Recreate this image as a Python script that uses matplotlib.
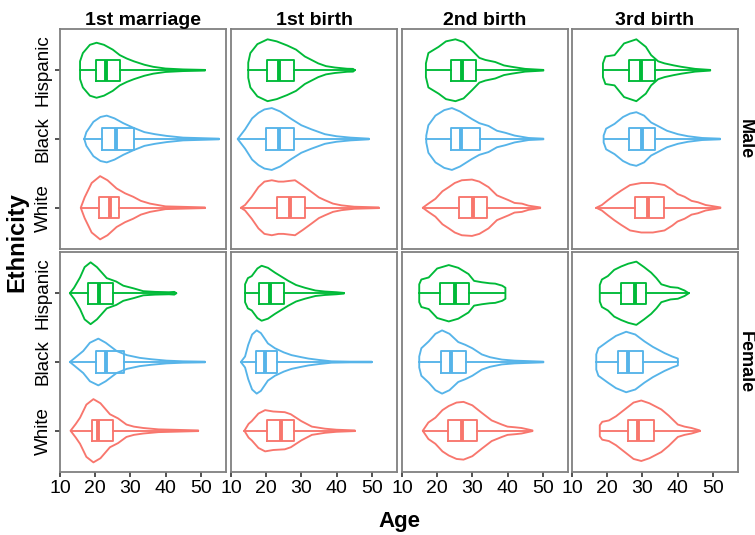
import matplotlib
matplotlib.use('Agg')
import matplotlib.pyplot as plt

plt.rcParams['font.family'] = ['Liberation Sans', 'DejaVu Sans']

events = ['1st marriage', '1st birth', '2nd birth', '3rd birth']
sexes = ['Male', 'Female']
ethnicities = ['White', 'Black', 'Hispanic']
colors = ['#F8766D', '#56B4E9', '#00BA38']

# violin outlines: (age, half width), order White / Black / Hispanic
marr_m = [
    [(15.9, 0), (17, 0.15), (19, 0.36), (21.4, 0.46), (23.5, 0.40), (26.1, 0.28), (28.5, 0.21), (30.8, 0.16),
     (33, 0.10), (35.6, 0.06), (40, 0.02), (51.2, 0.005)],
    [(16.9, 0), (17.5, 0.10), (19.5, 0.25), (21.5, 0.32), (23.3, 0.34), (25.5, 0.30), (28, 0.23), (30.8, 0.165),
     (34, 0.10), (37, 0.07), (40.3, 0.045), (45, 0.02), (55.2, 0.005)],
    [(15.7, 0.13), (16.5, 0.25), (18.5, 0.37), (20.4, 0.40), (22.5, 0.37), (25, 0.30), (27, 0.22), (29, 0.17),
     (31, 0.13), (34, 0.08), (36.5, 0.05), (40, 0.025), (45, 0.012), (51.2, 0.005)],
]
birth1_m = [
    [(12.8, 0), (14, 0.04), (15.9, 0.16), (17.8, 0.30), (19.5, 0.38), (21.6, 0.40), (23.5, 0.38), (24.9, 0.38),
     (26.5, 0.39), (28.2, 0.40), (30.5, 0.32), (32.9, 0.23), (35, 0.15), (36.7, 0.11), (39, 0.06), (41.4, 0.035),
     (45, 0.015), (52, 0.005)],
    [(11.9, 0), (14, 0.14), (16, 0.30), (17.8, 0.38), (19.5, 0.43), (21.6, 0.45), (24, 0.40), (27.2, 0.29),
     (30, 0.20), (32.9, 0.14), (36.7, 0.07), (40, 0.04), (44, 0.02), (49.2, 0.005)],
    [(14.9, 0.11), (15.5, 0.25), (17.5, 0.38), (20.4, 0.45), (23, 0.42), (26, 0.36), (28.5, 0.30), (31, 0.20),
     (34.8, 0.10), (37, 0.06), (39.5, 0.04), (43, 0.022), (44.7, 0.02), (45.2, 0.0)],
]
birth2_m = [
    [(15.9, 0), (17.5, 0.06), (19.5, 0.13), (21.5, 0.24), (23.3, 0.30), (25, 0.36), (27, 0.40), (29.9, 0.41),
     (32, 0.38), (34.6, 0.30), (37, 0.18), (40.3, 0.11), (42, 0.07), (44.1, 0.06), (46, 0.03), (49.3, 0.005)],
    [(16.9, 0.05), (17.5, 0.20), (19.5, 0.34), (22, 0.42), (24.2, 0.45), (26.5, 0.40), (29.9, 0.29), (32, 0.23),
     (34.6, 0.19), (37, 0.12), (39.4, 0.09), (42, 0.05), (46, 0.015), (50.2, 0.005)],
    [(16.8, 0.10), (17.5, 0.25), (20.4, 0.34), (22.5, 0.42), (25.2, 0.45), (27.5, 0.41), (29.9, 0.29), (32, 0.18),
     (33.7, 0.15), (36.5, 0.12), (39, 0.07), (41.2, 0.05), (45, 0.02), (50.2, 0.005)],
]
birth3_m = [
    [(16.9, 0), (18.5, 0.04), (20.2, 0.11), (22, 0.18), (24, 0.25), (26.5, 0.33), (29.7, 0.36), (33, 0.36),
     (36.3, 0.33), (38.5, 0.26), (40, 0.20), (42, 0.16), (44, 0.10), (45.8, 0.08), (48, 0.04), (52.2, 0.005)],
    [(19.0, 0.05), (19.7, 0.15), (22.1, 0.22), (24.5, 0.32), (26.5, 0.37), (28.3, 0.39), (30.5, 0.34), (32.5, 0.24),
     (34.4, 0.19), (37, 0.12), (40.1, 0.07), (43, 0.04), (47, 0.015), (52.1, 0.005)],
    [(18.8, 0.10), (19.5, 0.20), (22.1, 0.22), (24.8, 0.39), (28.3, 0.45), (31, 0.34), (32.5, 0.22), (34.5, 0.13),
     (36.3, 0.10), (39, 0.07), (41.1, 0.05), (45, 0.02), (49.3, 0.005)],
]
marr_f = [
    [(13.0, 0), (14.5, 0.10), (15.7, 0.19), (17.5, 0.38), (19.5, 0.46), (21.5, 0.40), (24.2, 0.24), (26.5, 0.18),
     (28.9, 0.09), (31, 0.06), (33.7, 0.04), (38, 0.02), (49.3, 0.005)],
    [(12.8, 0), (14, 0.05), (16.6, 0.16), (18.5, 0.28), (20.9, 0.34), (23, 0.28), (26.1, 0.16), (29, 0.10),
     (32.7, 0.06), (36, 0.04), (40.3, 0.02), (45, 0.01), (51.2, 0.005)],
    [(12.8, 0), (14, 0.08), (15.7, 0.23), (17, 0.38), (18.7, 0.45), (20.5, 0.38), (23.3, 0.22), (26, 0.17),
     (28, 0.11), (31, 0.07), (33.7, 0.03), (37, 0.02), (41, 0.015), (42.5, 0.02), (43.1, 0.0)],
]
birth1_f = [
    [(13.8, 0), (15, 0.10), (15.9, 0.14), (17.8, 0.25), (19.7, 0.30), (22, 0.28), (25.3, 0.27), (27, 0.24),
     (30, 0.14), (33, 0.06), (36.7, 0.03), (40, 0.015), (45.2, 0.005)],
    [(12.8, 0), (14, 0.08), (14.9, 0.25), (16, 0.40), (17.3, 0.46), (18.5, 0.42), (20.5, 0.27), (22.5, 0.20),
     (25, 0.14), (27.2, 0.10), (30, 0.07), (32, 0.05), (35, 0.03), (38.6, 0.01), (44, 0.005), (50, 0.005)],
    [(14.0, 0.13), (14.8, 0.22), (15.9, 0.25), (17.5, 0.36), (18.7, 0.40), (20.5, 0.37), (22.5, 0.30), (26.3, 0.18),
     (28.5, 0.12), (31, 0.08), (34, 0.04), (36.7, 0.025), (40, 0.015), (42.1, 0.005)],
]
birth2_f = [
    [(15.9, 0), (17.5, 0.12), (19.5, 0.19), (21.5, 0.30), (23.3, 0.36), (25.5, 0.41), (27.5, 0.42), (30, 0.37),
     (32.7, 0.26), (35.5, 0.15), (38.4, 0.09), (40, 0.06), (42.2, 0.05), (44, 0.04), (47.1, 0.005)],
    [(14.9, 0.08), (15.5, 0.20), (17.6, 0.30), (19.5, 0.41), (21.4, 0.46), (23.5, 0.41), (26, 0.29), (28, 0.25),
     (30, 0.20), (32.7, 0.11), (35, 0.07), (38.4, 0.035), (42, 0.02), (50.2, 0.005)],
    [(14.9, 0.13), (15.5, 0.20), (17.6, 0.23), (20, 0.36), (23.3, 0.41), (26, 0.37), (28.9, 0.28), (30.5, 0.18),
     (32.7, 0.16), (35, 0.145), (36.5, 0.14), (38.5, 0.11), (39.4, 0.08)],
]
birth3_f = [
    [(17.9, 0.08), (18.6, 0.13), (20.5, 0.15), (22.5, 0.21), (25, 0.31), (27.5, 0.41), (29.7, 0.44), (32, 0.40),
     (35.4, 0.31), (37.5, 0.22), (40.1, 0.09), (42, 0.06), (44, 0.04), (46.3, 0.005)],
    [(16.9, 0.11), (17.5, 0.20), (20.2, 0.30), (22.5, 0.38), (25.4, 0.44), (28, 0.40), (30.6, 0.30), (33, 0.22),
     (36.3, 0.13), (38.5, 0.08), (40.1, 0.05)],
    [(17.9, 0.12), (18.5, 0.20), (20.2, 0.25), (22, 0.34), (24, 0.39), (26, 0.43), (28.3, 0.46), (30.5, 0.38),
     (32.5, 0.30), (34, 0.22), (35.4, 0.13), (38, 0.09), (40.1, 0.08), (42, 0.04), (43.2, 0.0)],
]
violins = {'Male': [marr_m, birth1_m, birth2_m, birth3_m],
           'Female': [marr_f, birth1_f, birth2_f, birth3_f]}

# box statistics per event, each [White, Black, Hispanic]
q1_m = [[21.2, 21.9, 20.1], [23.0, 19.9, 20.1], [26.1, 24.0, 24.0], [28.0, 26.2, 26.1]]
med_m = [[24.2, 25.8, 23.1], [26.8, 23.7, 23.7], [30.2, 26.9, 27.0], [31.6, 30.0, 29.7]]
q3_m = [[26.9, 31.1, 27.0], [31.0, 28.0, 28.0], [34.1, 32.3, 31.1], [36.3, 33.7, 33.5]]
q1_f = [[19.0, 20.1, 18.0], [20.1, 17.1, 18.0], [23.0, 21.1, 20.9], [25.9, 23.1, 24.0]]
med_f = [[20.7, 23.1, 21.1], [24.1, 19.7, 21.1], [27.0, 24.0, 25.0], [28.9, 25.9, 27.8]]
q3_f = [[25.2, 28.2, 25.2], [27.9, 23.2, 25.2], [31.3, 28.2, 29.1], [33.3, 30.2, 31.1]]
boxes = {'Male': (q1_m, med_m, q3_m), 'Female': (q1_f, med_f, q3_f)}

W, H = 755, 535
fig = plt.figure(figsize=(W / 100, H / 100), dpi=100)

col_left = [60, 231, 402, 572]
row_top = [29, 252]
pw, ph = 166, 220
border = '#808080'
lw = 1.35

for r, sex in enumerate(sexes):
    q1s, meds, q3s = boxes[sex]
    for c, ev in enumerate(events):
        ax = fig.add_axes([col_left[c] / W, 1 - (row_top[r] + ph) / H, pw / W, ph / H])
        for k, eth in enumerate(ethnicities):
            y = k + 1
            prof = violins[sex][c][k]
            ages = [p[0] for p in prof]
            ws = [p[1] for p in prof]
            ax.fill_between(ages, [y - w for w in ws], [y + w for w in ws],
                            facecolor='none', edgecolor=colors[k], lw=lw, joinstyle='round')
            st = {'med': meds[c][k], 'q1': q1s[c][k], 'q3': q3s[c][k],
                  'whislo': ages[0], 'whishi': ages[-1]}
            ax.bxp([st], positions=[y], widths=0.31, orientation='horizontal',
                   showfliers=False, showcaps=False,
                   boxprops=dict(color=colors[k], lw=lw),
                   whiskerprops=dict(color=colors[k], lw=lw),
                   medianprops=dict(color=colors[k], lw=2.8, solid_capstyle='butt'))
        ax.set_xlim(10, 57.2)
        ax.set_ylim(0.4, 3.6)
        for s in ax.spines.values():
            s.set_color(border)
            s.set_linewidth(1.3)
        ax.tick_params(length=3.5, width=1.2, color='#333333', labelsize=14, pad=2.5)
        ax.set_xticks([10, 20, 30, 40, 50])
        ax.set_yticks([1, 2, 3])
        if r == 0:
            ax.tick_params(axis='x', bottom=False, labelbottom=False)
            ax.set_title(ev, fontsize=14, fontweight='bold', pad=2)
        if c == 0:
            ax.set_yticklabels(ethnicities, rotation=90, va='center', fontsize=13.5)
        else:
            ax.tick_params(axis='y', left=False, labelleft=False)
        if c == 3:
            fig.text(737 / W, 1 - (row_top[r] + ph / 2) / H, sex, rotation=-90,
                     ha='left', va='center', fontsize=13, fontweight='bold')

fig.text(399 / W, 1 - 521 / H, 'Age', ha='center', va='center', fontsize=16, fontweight='bold')
fig.text(17 / W, 1 - 242 / H, 'Ethnicity', ha='center', va='center', rotation=90,
         fontsize=17, fontweight='bold')

fig.savefig('out.png', dpi=100)
